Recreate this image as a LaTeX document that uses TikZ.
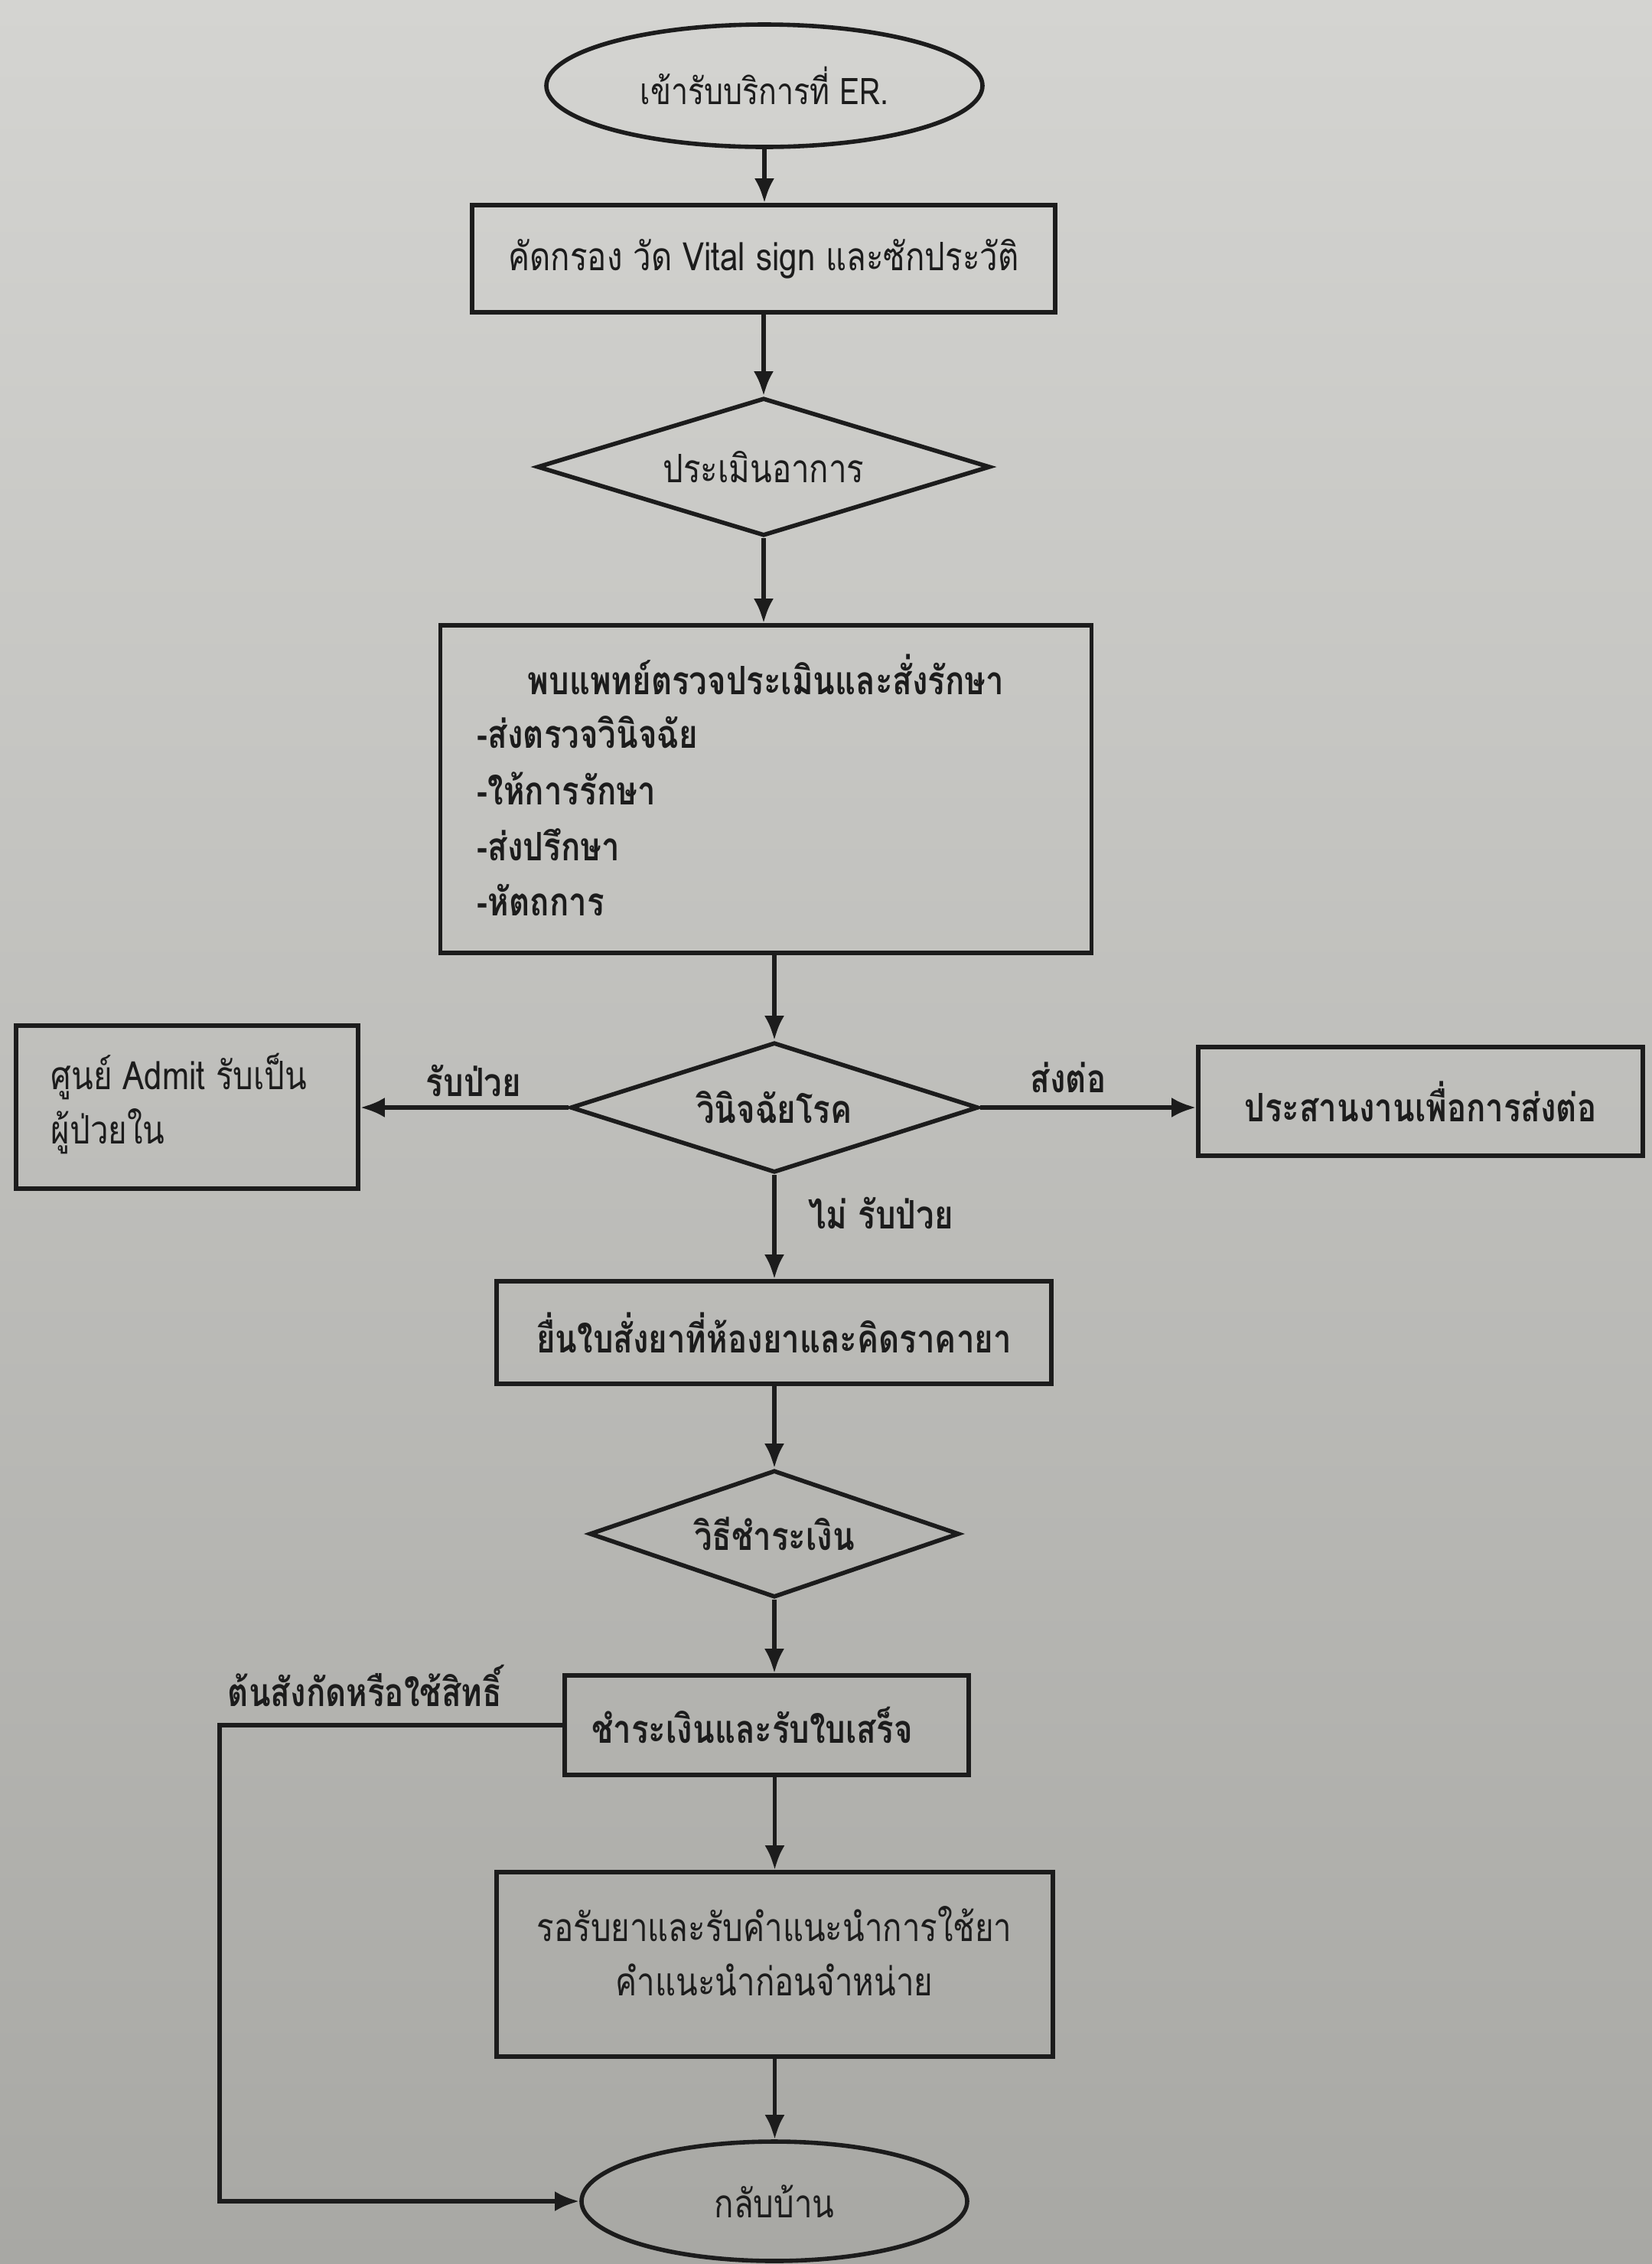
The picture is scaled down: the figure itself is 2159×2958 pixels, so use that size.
\documentclass[tikz,border=0pt]{standalone}
\usepackage{fontspec}
\newfontfamily\thai[Script=Thai,FakeStretch=0.82]{Loma}
\usetikzlibrary{shapes.geometric,arrows.meta}
\definecolor{ink}{HTML}{1C1C1C}
\definecolor{papertop}{HTML}{D4D4D1}
\definecolor{paperbot}{HTML}{A8A8A4}
\tikzset{
  txt/.style={font=\thai\fontsize{12.8}{15}\selectfont, text=ink, inner sep=0pt},
  txts/.style={font=\thai\fontsize{12}{14}\selectfont, text=ink, inner sep=0pt},
  txtb/.style={font=\thai\bfseries\fontsize{12.8}{15}\selectfont, text=ink, inner sep=0pt},
  shp/.style={draw=ink, line width=1.4pt, inner sep=0pt},
  boxnode/.style={shp, rectangle},
  ovalnode/.style={shp, ellipse},
  decnode/.style={shp, diamond},
  flow/.style={draw=ink, line width=1.4pt, -{Latex[length=8pt,width=6.5pt]}},
}
\begin{document}
\begin{tikzpicture}[x=0.25pt,y=-0.25pt]
\useasboundingbox (0,0) rectangle (2159,2958);
\shade[top color=papertop, bottom color=paperbot] (0,0) rectangle (2159,2958);

% nodes
\node[ovalnode, txts, minimum width=142.5pt, minimum height=40pt] (e1) at (999,112) {เข้ารับบริการที่ ER.};
\node[boxnode, txt, minimum width=190.5pt, minimum height=35pt] (b1) at (998,338) {คัดกรอง วัด Vital sign และซักประวัติ};
\node[decnode, txt, shape aspect=3.3, minimum width=148pt, minimum height=45pt] (d1) at (998,610) {ประเมินอาการ};
\node[boxnode, minimum width=212.75pt, minimum height=107pt] (big) at (1001,1031) {};
\node[txtb] (bigt) at (1001,881) {พบแพทย์ตรวจประเมินและสั่งรักษา};
\node[txtb, anchor=west] (i1) at (623,957) {-ส่งตรวจวินิจฉัย};
\node[txtb, anchor=west] (i2) at (623,1030) {-ให้การรักษา};
\node[txtb, anchor=west] (i3) at (623,1104) {-ส่งปรึกษา};
\node[txtb, anchor=west] (i4) at (623,1176) {-หัตถการ};

\node[decnode, txtb, shape aspect=3.1, minimum width=133.25pt, minimum height=42.5pt] (d2) at (1012,1447) {วินิจฉัยโรค};
\node[boxnode, minimum width=111.75pt, minimum height=53.25pt] (lb) at (244.5,1446.5) {};
\node[txt, anchor=west] (lb1) at (66,1406) {ศูนย์ Admit รับเป็น};
\node[txt, anchor=west] (lb2) at (66,1478) {ผู้ป่วยใน};
\node[boxnode, txtb, minimum width=145.25pt, minimum height=35.5pt] (rb) at (1856.5,1439) {ประสานงานเพื่อการส่งต่อ};

\node[boxnode, txtb, minimum width=181.25pt, minimum height=33.5pt] (b3) at (1011.5,1741) {ยื่นใบสั่งยาที่ห้องยาและคิดราคายา};
\node[decnode, txtb, shape aspect=2.9, minimum width=120.75pt, minimum height=41.5pt] (d3) at (1012,2004) {วิธีชำระเงิน};
\node[boxnode, minimum width=132pt, minimum height=32.5pt] (b4) at (1002,2254) {};
\node[txtb] (b4t) at (983,2254) {ชำระเงินและรับใบเสร็จ};
\node[boxnode, minimum width=181.75pt, minimum height=60.25pt] (b5) at (1012.5,2566.5) {};
\node[txt] (b5a) at (1012,2514) {รอรับยาและรับคำแนะนำการใช้ยา};
\node[txt] (b5b) at (1012,2587) {คำแนะนำก่อนจำหน่าย};
\node[ovalnode, txt, minimum width=126pt, minimum height=39pt] (e2) at (1012,2876) {กลับบ้าน};

% labels
\node[txtb] (l1) at (619,1412) {รับป่วย};
\node[txtb] (l2) at (1396,1408) {ส่งต่อ};
\node[txtb] (l3) at (1151,1585) {ไม่ รับป่วย};
\node[txtb] (l4) at (477,2202) {ต้นสังกัดหรือใช้สิทธิ์};

% connectors
\draw[flow] (e1.south) -- (e1.south |- b1.north);
\draw[flow] (b1.south) -- (d1.north);
\draw[flow] (d1.south) -- (d1.south |- big.north);
\draw[flow] (d2.north |- big.south) -- (d2.north);
\draw[flow] (d2.west) -- (d2.west -| lb.east);
\draw[flow] (d2.east) -- (d2.east -| rb.west);
\draw[flow] (d2.south) -- (d2.south |- b3.north);
\draw[flow] (d3.north |- b3.south) -- (d3.north);
\draw[flow] (d3.south) -- (d3.south |- b4.north);
\draw[flow] (b5.north |- b4.south) -- (b5.north);
\draw[flow] (b5.south) -- (b5.south |- e2.north);
\coordinate (corner) at (287,2254);
\draw[flow] (b4.west) -- (corner) |- (e2.west);
\end{tikzpicture}
\end{document}
